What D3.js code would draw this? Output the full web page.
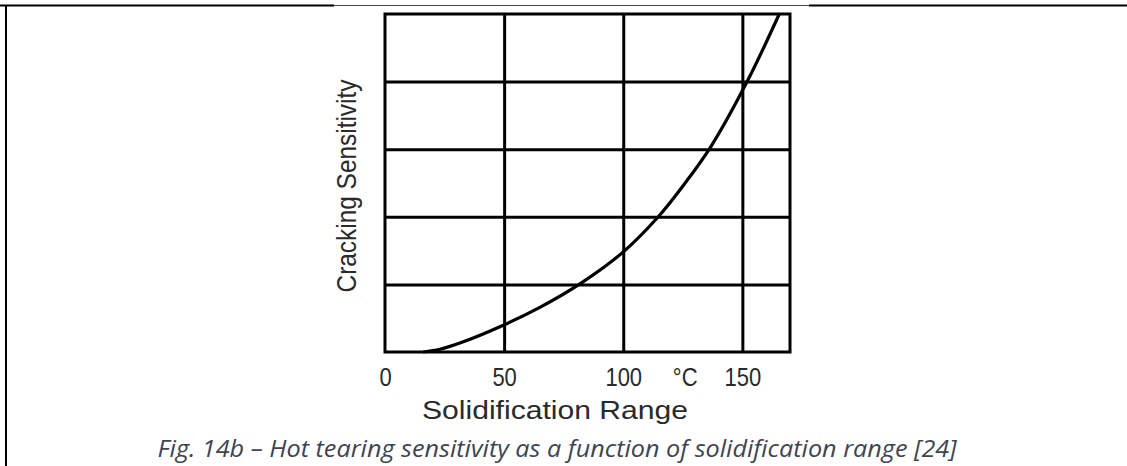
<!DOCTYPE html>
<html>
<head>
<meta charset="utf-8">
<script src="https://cdn.jsdelivr.net/npm/d3@7/dist/d3.min.js"></script>
<style>
  html, body { margin: 0; padding: 0; background: #fff; }
  svg { display: block; }
</style>
</head>
<body>
<svg id="chart" width="1127" height="466"></svg>
<script>
// Solidification range (°C) vs. cracking sensitivity (arbitrary units)
const solidRange  = [16, 23, 32, 48, 65, 81.5, 100, 114.7, 126, 137, 152, 165.5];
const sensitivity = [0, 0.04, 0.14, 0.37, 0.66, 1.0, 1.48, 2.0, 2.5, 3.05, 4.0, 5.0];
const xTicks = [0, 50, 100, 150];
const yGrid  = [1, 2, 3, 4];
const xLabel = "Solidification Range";
const yLabel = "Cracking Sensitivity";
const unitLabel = "°C";
const caption = "Fig. 14b – Hot tearing sensitivity as a function of solidification range [24]";

const svg = d3.select("#chart");
const W = 1127, H = 466;
const plot = { left: 385, right: 790, top: 14, bottom: 352 };

const x = d3.scaleLinear().domain([0, 170]).range([plot.left, plot.right]);
const y = d3.scaleLinear().domain([0, 5]).range([plot.bottom, plot.top]);

const labelFont = "Liberation Sans, Arial, sans-serif";
const labelColor = "#2a2a2a";

// page frame: rule across the top and the left edge
svg.append("line").attr("x1", 0).attr("x2", 334).attr("y1", 5.5).attr("y2", 5.5)
  .attr("stroke", "#000").attr("stroke-width", 2);
svg.append("line").attr("x1", 334).attr("x2", 809).attr("y1", 5.5).attr("y2", 5.5)
  .attr("stroke", "#444").attr("stroke-width", 1);
svg.append("line").attr("x1", 809).attr("x2", W).attr("y1", 5.5).attr("y2", 5.5)
  .attr("stroke", "#000").attr("stroke-width", 2);
svg.append("line").attr("x1", 6).attr("x2", 6).attr("y1", 5).attr("y2", H)
  .attr("stroke", "#000").attr("stroke-width", 2);

// grid lines
const gx = svg.append("g").attr("transform", `translate(0,${plot.bottom})`)
  .call(d3.axisBottom(x).tickValues(xTicks.filter(d => d > 0)).tickSize(-(plot.bottom - plot.top)).tickFormat(""));
gx.select(".domain").remove();
gx.selectAll("line").attr("stroke", "#000").attr("stroke-width", 3);

const gy = svg.append("g").attr("transform", `translate(${plot.left},0)`)
  .call(d3.axisLeft(y).tickValues(yGrid).tickSize(-(plot.right - plot.left)).tickFormat(""));
gy.select(".domain").remove();
gy.selectAll("line").attr("stroke", "#000").attr("stroke-width", 3);

// frame
svg.append("rect")
  .attr("x", plot.left).attr("y", plot.top)
  .attr("width", plot.right - plot.left).attr("height", plot.bottom - plot.top)
  .attr("fill", "none").attr("stroke", "#000").attr("stroke-width", 3);

// curve
const line = d3.line().x((d, i) => x(solidRange[i])).y(d => y(d)).curve(d3.curveCatmullRom.alpha(0.5));
svg.append("path").datum(sensitivity)
  .attr("d", line).attr("fill", "none").attr("stroke", "#000").attr("stroke-width", 3.2);

// tick labels (slightly narrow glyphs)
const ax = svg.append("g").attr("transform", `translate(0,${plot.bottom})`)
  .call(d3.axisBottom(x).tickValues(xTicks).tickSize(0).tickPadding(16));
ax.select(".domain").remove();
ax.selectAll("text").attr("font-family", labelFont)
  .attr("font-size", 25).attr("fill", labelColor).attr("transform", "scale(0.88,1)");

svg.append("text").attr("transform", `translate(${x(126)},386) scale(0.88,1)`).attr("text-anchor", "middle")
  .attr("font-family", labelFont).attr("font-size", 25).attr("fill", labelColor).text(unitLabel);

svg.append("text").attr("x", 555).attr("y", 419).attr("text-anchor", "middle")
  .attr("font-family", labelFont).attr("font-size", 25).attr("fill", labelColor)
  .attr("textLength", 266).attr("lengthAdjust", "spacingAndGlyphs").text(xLabel);

svg.append("text").attr("transform", `translate(356,186) rotate(-90)`).attr("text-anchor", "middle")
  .attr("font-family", labelFont).attr("font-size", 28).attr("fill", labelColor)
  .attr("textLength", 213).attr("lengthAdjust", "spacingAndGlyphs").text(yLabel);

// figure caption
svg.append("text").attr("x", 557).attr("y", 457).attr("text-anchor", "middle")
  .attr("font-family", "Open Sans, Lato, sans-serif").attr("font-style", "italic")
  .attr("font-size", 23).attr("fill", "#3e4451")
  .attr("textLength", 799).attr("lengthAdjust", "spacingAndGlyphs")
  .text(caption);
</script>
</body>
</html>
